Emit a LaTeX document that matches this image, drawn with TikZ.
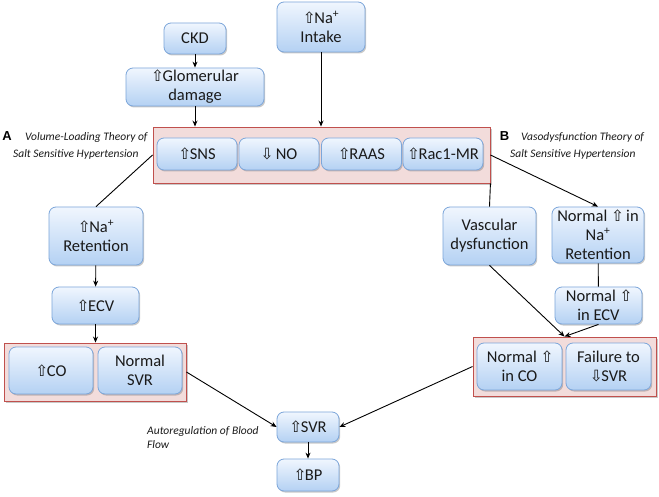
\documentclass[tikz,border=0pt]{standalone}
\usepackage{fontspec}
\setmainfont{Carlito}
\newfontfamily\symfont{DejaVu Sans}
\newfontfamily\labfont{Liberation Sans}
\usetikzlibrary{shadows,arrows.meta}
\newcommand{\upar}{{\symfont\fontsize{15.5}{15.5}\selectfont ⇧}\kern-1.5pt}
\newcommand{\dnar}{{\symfont\fontsize{15.5}{15.5}\selectfont ⇩}\kern-1.5pt}
\definecolor{boxtop}{HTML}{F0F6FE}
\definecolor{boxbot}{HTML}{B4D1F3}
\definecolor{boxedge}{HTML}{7CA6DA}
\definecolor{redfill}{HTML}{F2DCDB}
\definecolor{rededge}{HTML}{C0504D}
\definecolor{txt}{HTML}{1A1A1A}
\tikzset{
  bx/.style={rounded corners=7pt, draw=boxedge, line width=0.8pt, top color=boxtop, bottom color=boxbot,
    align=center, inner sep=0pt, text=txt,
    drop shadow={shadow xshift=1.2pt, shadow yshift=-1.5pt, opacity=0.35, fill=black!60}},
  grp/.style={draw=rededge, line width=0.9pt, fill=redfill, inner sep=0pt,
    drop shadow={shadow xshift=1.5pt, shadow yshift=-1.8pt, opacity=0.35, fill=black!60}},
  conn/.style={line width=0.9pt, black},
  arr/.style={conn, -{Stealth[length=6pt,width=5pt]}},
  note/.style={font=\fontsize{11.5}{14}\selectfont\itshape, text=txt, inner sep=0pt},
  letter/.style={font=\labfont\fontsize{13}{13}\selectfont\bfseries, inner sep=0pt}
}
\begin{document}
\begin{tikzpicture}[x=1pt,y=-1pt,font=\fontsize{16.5}{19}\selectfont]
\useasboundingbox (0,0) rectangle (659,497);
\fill[white] (0,0) rectangle (659,497);

% group boxes
\node[grp, minimum width=337pt, minimum height=56pt] (top) at (321.5,155) {};
\node[grp, minimum width=182pt, minimum height=58pt] (lbox) at (95,372) {};
\node[grp, minimum width=183pt, minimum height=59pt] (rbox) at (564.5,366.5) {};

% top boxes
\node[bx, minimum width=62pt, minimum height=31pt] (ckd) at (195,38.5) {CKD};
\node[bx, minimum width=88pt, minimum height=50pt] (intake) at (321,27) {\upar Na\textsuperscript{+}\\Intake};
\node[bx, minimum width=138pt, minimum height=38pt] (glom) at (195,87) {\upar Glomerular\\damage};

\node[bx, minimum width=80pt, minimum height=32pt] (sns) at (197,154) {\upar SNS};
\node[bx, minimum width=80pt, minimum height=32pt] (no) at (279,154) {\dnar\ NO};
\node[bx, minimum width=80pt, minimum height=32pt] (raas) at (361.5,154) {\upar RAAS};
\node[bx, minimum width=80pt, minimum height=32pt] (rac) at (443,154) {\upar Rac1-MR};

% left branch
\node[bx, minimum width=94pt, minimum height=58pt] (naret) at (96,236) {\upar Na\textsuperscript{+}\\Retention};
\node[bx, minimum width=87pt, minimum height=37pt] (ecv) at (95.5,305.5) {\upar ECV};
\node[bx, minimum width=84pt, minimum height=47pt] (co) at (51,370.5) {\upar CO};
\node[bx, minimum width=84pt, minimum height=47pt] (nsvr) at (140,370.5) {Normal\\SVR};

% right branch
\node[bx, minimum width=93pt, minimum height=58pt] (vasc) at (489.5,236) {Vascular\\dysfunction};
\node[bx, minimum width=92pt, minimum height=56pt] (nnaret) at (598,235) {Normal \upar\ in\\Na\textsuperscript{+}\\Retention};
\node[bx, minimum width=87pt, minimum height=37pt] (necv) at (598.5,305.5) {Normal \upar\\in ECV};
\node[bx, minimum width=85pt, minimum height=47pt] (nco) at (519.5,366.5) {Normal \upar\\in CO};
\node[bx, minimum width=85pt, minimum height=47pt] (fail) at (608.5,366.5) {Failure to\\\dnar SVR};

% bottom
\node[bx, minimum width=62pt, minimum height=30pt] (svr) at (308,427) {\upar SVR};
\node[bx, minimum width=62pt, minimum height=32pt] (bp) at (308,475) {\upar BP};

% labels
\node[letter] (la) at (7,136.5) {A};
\node[note, anchor=west] (ta1) at (25,137) {Volume-Loading Theory of};
\node[note, anchor=west] (ta2) at (13,154) {Salt Sensitive Hypertension};
\node[letter] (lb) at (504.5,136.5) {B};
\node[note, anchor=west] (tb1) at (521,137) {Vasodysfunction Theory of};
\node[note, anchor=west] (tb2) at (510,154) {Salt Sensitive Hypertension};
\node[note, anchor=west, align=left] (auto) at (147,438) {Autoregulation of Blood\\Flow};

% connectors
\draw[arr] (ckd) -- (glom);
\draw[arr] (glom.south) -- (glom.south |- top.north);
\draw[arr] (intake.south) -- (intake.south |- top.north);
\draw[conn] (top.west) -- (naret.north);
\draw[arr] (naret) -- (ecv);
\draw[arr] (ecv.south) -- (ecv.south |- lbox.north);
\draw[arr] (lbox.east) -- (svr.west);
\draw[arr] (svr) -- (bp);
\draw[conn] (top.south east) -- (vasc.north);
\draw[arr] (top.east) -- (nnaret.north);
\draw[conn] (nnaret) -- (necv);
\draw[arr] (vasc.south) -- (rbox.north);
\draw[arr] (necv.south) -- (rbox.north);
\draw[arr] (rbox.west) -- (svr.east);
\end{tikzpicture}
\end{document}
